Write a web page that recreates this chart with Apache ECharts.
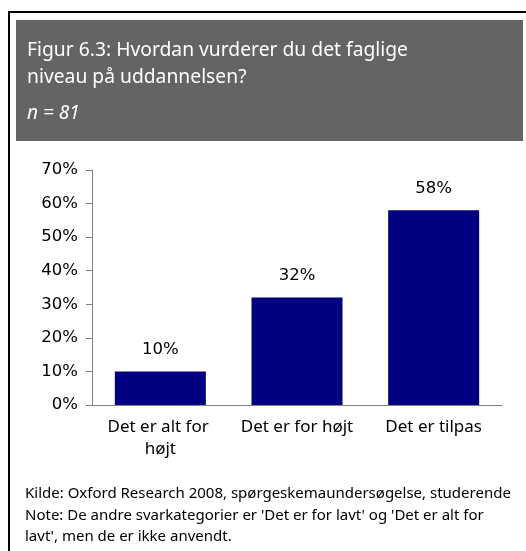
<!DOCTYPE html>
<html>
<head>
<meta charset="utf-8">
<script src="https://cdn.jsdelivr.net/npm/echarts@6/dist/echarts.min.js"></script>
<style>
  html, body { margin: 0; padding: 0; background: #fff; }
  #chart { width: 526px; height: 551px; }
</style>
</head>
<body>
<div id="chart"></div>
<script>
const categories = ['Det er alt for højt', 'Det er for højt', 'Det er tilpas']
const values = [10, 32, 58]
const yTicks = [0, 10, 20, 30, 40, 50, 60, 70]
const titleLines = ['Figur 6.3: Hvordan vurderer du det faglige', 'niveau på uddannelsen?']
const subtitle = 'n = 81'
const notes = [
  'Kilde: Oxford Research 2008, spørgeskemaundersøgelse, studerende',
  "Note: De andre svarkategorier er 'Det er for lavt' og 'Det er alt for",
  "lavt', men de er ikke anvendt."
]

const font = '"Noto Sans", "Open Sans", sans-serif'
const numFont = 'Verdana, "DejaVu Sans", sans-serif'
let myChart = echarts.init(document.getElementById('chart'))

myChart.setOption({
  animation: false,
  graphic: [
    {
      type: 'rect',
      shape: {x: 9, y: 12, width: 540, height: 560},
      style: {fill: 'none', stroke: '#000', lineWidth: 2}
    },
    {
      type: 'rect',
      shape: {x: 16, y: 20, width: 507, height: 121},
      style: {fill: '#646464'}
    },
    {
      type: 'text',
      left: 27, top: 37,
      style: {
        text: titleLines.join('\n'),
        fill: '#fff',
        font: '19.3px ' + font,
        lineHeight: 27
      }
    },
    {
      type: 'text',
      left: 27, top: 104,
      style: {
        text: subtitle,
        fill: '#fff',
        font: 'italic 19px ' + font
      }
    },
    {
      type: 'text',
      left: 25, top: 483,
      style: {
        text: notes.join('\n'),
        fill: '#000',
        font: '15px ' + font,
        lineHeight: 21.5
      }
    }
  ],
  grid: {
    left: 92,
    right: 24,
    top: 170,
    bottom: 146,
    containLabel: false
  },
  xAxis: {
    type: 'category',
    data: categories,
    axisTick: {show: false},
    axisLine: {lineStyle: {color: '#808080', width: 1}},
    axisLabel: {
      color: '#000',
      fontSize: 17,
      fontFamily: font,
      margin: 11,
      width: 134,
      overflow: 'break',
      lineHeight: 22,
      interval: 0
    }
  },
  yAxis: {
    type: 'value',
    min: 0,
    max: 70,
    interval: 10,
    splitLine: {show: false},
    axisLine: {show: true, lineStyle: {color: '#808080', width: 1}},
    axisTick: {show: true, length: 6, lineStyle: {color: '#808080'}},
    axisLabel: {
      color: '#000',
      fontSize: 16.5,
      fontFamily: numFont,
      margin: 14,
      formatter: function (v) {
        return yTicks.indexOf(v) >= 0 ? v + '%' : ''
      }
    }
  },
  series: [
    {
      type: 'bar',
      data: values,
      barWidth: 91,
      itemStyle: {color: '#000080'},
      label: {
        show: true,
        position: 'top',
        distance: 13,
        color: '#000',
        fontSize: 16.5,
        fontFamily: numFont,
        formatter: '{c}%'
      }
    }
  ]
})
</script>
</body>
</html>
